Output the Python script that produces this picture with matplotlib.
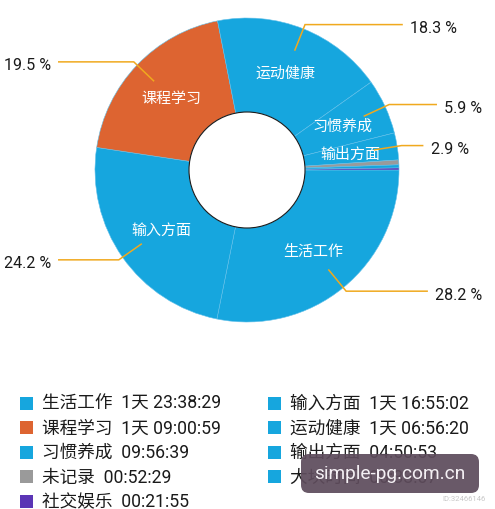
import numpy as np
import matplotlib
matplotlib.use('Agg')
import matplotlib.pyplot as plt
from matplotlib.patches import Circle, Rectangle, FancyBboxPatch

plt.rcParams['font.family'] = ['Roboto', 'Noto Sans CJK SC', 'DejaVu Sans']

# Weekly time log (sorted by duration)
names = ['生活工作', '输入方面', '课程学习', '运动健康', '习惯养成',
         '输出方面', '未记录', '大块时间', '社交娱乐']
durations = ['1天 23:38:29', '1天 16:55:02', '1天 09:00:59', '1天 06:56:20', '09:56:39',
             '04:50:53', '00:52:29', '00:33:07', '00:21:55']
colors = ['#16a6de', '#16a6de', '#dd6431', '#16a6de', '#16a6de',
          '#16a6de', '#9a9a9a', '#16a6de', '#5b35b5']
# horizontal part of each leader line (px), only labelled slices
leader_len = [81, 60, 75, 97, 47, 21]


def to_hours(s):
    days = 0
    if '天' in s:
        d, s = s.split('天')
        days = int(d)
    h, m, sec = [int(x) for x in s.strip().split(':')]
    return days * 24 + h + m / 60 + sec / 3600


hours = np.array([to_hours(d) for d in durations])
pct = hours / hours.sum() * 100

W, H = 495, 510
fig = plt.figure(figsize=(W / 100, H / 100), dpi=100)
fig.patch.set_facecolor('white')
ax = fig.add_axes([0, 0, 1, 1])

cx, cy = 247, H - 171
R, r_in = 152, 58

wedges, _ = ax.pie(hours, colors=colors, startangle=0, counterclock=False,
                   radius=R, center=(cx, cy),
                   wedgeprops=dict(width=R - r_in, edgecolor='#62c0ea', linewidth=0.4))
ax.add_patch(Circle((cx, cy), r_in, facecolor='white', edgecolor='#1a1a1a', linewidth=0.8, zorder=3))

k = 0
for w, name, p in zip(wedges, names, pct):
    if p < 2:
        continue
    mid = np.deg2rad((w.theta1 + w.theta2) / 2)
    ca, sa = np.cos(mid), np.sin(mid)
    ax.text(cx + 105 * ca, cy + 105 * sa, name, color='white', fontsize=10.8,
            ha='center', va='center', family=['Noto Sans CJK SC'], zorder=4)
    x0, y0 = cx + 0.85 * R * ca, cy + 0.85 * R * sa
    x1, y1 = cx + 1.03 * R * ca, cy + 1.03 * R * sa
    side = 1 if ca >= 0 else -1
    x2 = x1 + side * leader_len[k]
    ax.plot([x0, x1, x2], [y0, y1, y1], color='#f0a91e', lw=1.1, zorder=4,
            solid_joinstyle='miter')
    ax.text(x2 + side * 8, y1 - 3, '{:.1f} %'.format(p), fontsize=11.6, color='#1a1a1a',
            ha='left' if side > 0 else 'right', va='center')
    k += 1

# legend, two columns
for i, (name, dur, c) in enumerate(zip(names, durations, colors)):
    col, row = i % 2, i // 2
    sx = 20 if col == 0 else 268
    yc = H - (404 + 24.5 * row)
    ax.add_patch(Rectangle((sx, yc - 6.5), 13, 13, facecolor=c, edgecolor='none'))
    ax.text(sx + 22, yc, name + '  ' + dur, fontsize=12.7, color='#1a1a1a',
            ha='left', va='center')

# watermark overlay (sits over the last legend entry, as in the screenshot)
ax.add_patch(FancyBboxPatch((301, H - 494), 178, 39, boxstyle='round,pad=0,rounding_size=8',
                            facecolor='#5e4c5c', edgecolor='none', alpha=0.93, zorder=6))
ax.text(390, H - 474, 'simple-pg.com.cn', color='#f4f0f4', fontsize=13.8,
        ha='center', va='center', zorder=7)
ax.text(486, H - 499, 'ID:32466146', color='#c8c8c8', fontsize=5.5,
        ha='right', va='center', zorder=7)

ax.set_xlim(0, W)
ax.set_ylim(0, H)
ax.axis('off')

fig.savefig('out.png', dpi=100, facecolor='white')
